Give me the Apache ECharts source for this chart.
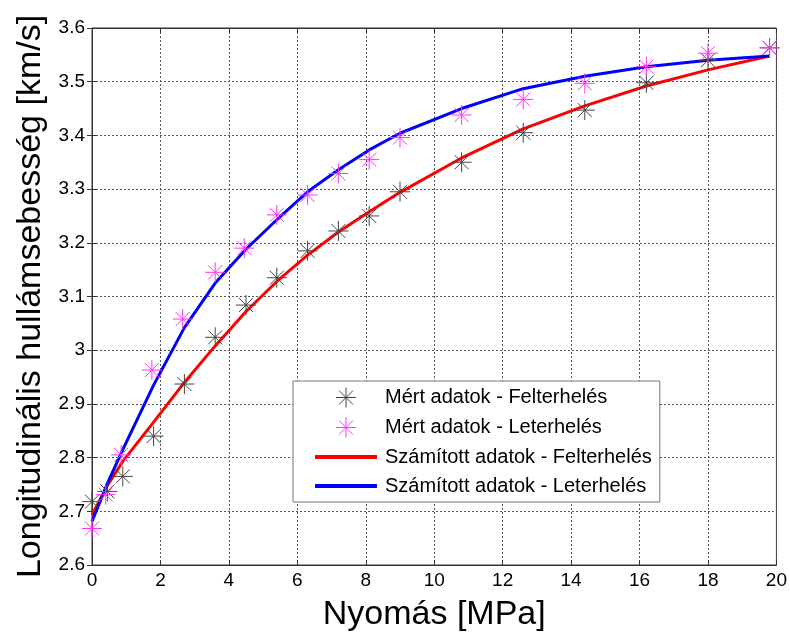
<!DOCTYPE html>
<html>
<head>
<meta charset="utf-8">
<script src="https://cdn.jsdelivr.net/npm/echarts@6/dist/echarts.min.js"></script>
<style>
html, body { margin: 0; padding: 0; background: #fff; }
#chart { width: 790px; height: 639px; }
</style>
</head>
<body>
<div id="chart"></div>
<script>
// mért adatok (measured) - x pressure values
const xFel = [0, 0.45, 0.9, 1.8, 2.7, 3.6, 4.5, 5.4, 6.3, 7.2, 8.1, 9, 10.8, 12.6, 14.4, 16.2, 18, 19.8];
const xLe = [0, 0.4, 0.85, 1.75, 2.65, 3.6, 4.45, 5.4, 6.3, 7.2, 8.1, 9, 10.8, 12.6, 14.4, 16.2, 18, 19.8];
const mertFel = [2.718, 2.737, 2.765, 2.84, 2.937, 3.024, 3.084, 3.135, 3.185, 3.222, 3.25, 3.295, 3.35, 3.405, 3.447, 3.498, 3.54, 3.563];
const mertLe = [2.668, 2.731, 2.805, 2.963, 3.058, 3.145, 3.19, 3.252, 3.289, 3.329, 3.355, 3.396, 3.438, 3.467, 3.497, 3.528, 3.553, 3.563];
// számított adatok (model curves)
const xCalc = [0, 0.45, 0.9, 1.8, 2.7, 3.6, 4.5, 5.4, 6.3, 7.2, 8.1, 9, 10.8, 12.6, 14.4, 16.2, 18, 19.8];
const calcFel = [2.693, 2.748, 2.793, 2.866, 2.94, 3.008, 3.072, 3.128, 3.177, 3.22, 3.258, 3.294, 3.358, 3.412, 3.455, 3.492, 3.522, 3.548];
const calcLe = [2.681, 2.752, 2.815, 2.935, 3.042, 3.125, 3.188, 3.243, 3.295, 3.336, 3.373, 3.404, 3.45, 3.487, 3.51, 3.528, 3.54, 3.548];

const names = ['Mért adatok - Felterhelés', 'Mért adatok - Leterhelés',
  'Számított adatok - Felterhelés', 'Számított adatok - Leterhelés'];

const star = 'path://M10,0L10,20M0,10L20,10M3,3L17,17M3,17L17,3';
const zip = (xs, ys) => xs.map((x, i) => [x, ys[i]]);
const font = 'Arial, "Liberation Sans", sans-serif';

const myChart = echarts.init(document.getElementById('chart'));

const gridLine = { show: true, lineStyle: { color: '#555', type: [2, 2], width: 1 } };
const hiddenDot = { color: 'rgba(0,0,0,0)', borderWidth: 0 };

const option = {
  animation: false,
  backgroundColor: '#fff',
  grid: { left: 92, right: 13, top: 28, bottom: 74, show: true, borderColor: '#333', borderWidth: 1 },
  legend: {
    orient: 'vertical',
    left: 293, top: 381,
    padding: [6, 8, 6, 20],
    itemWidth: 62, itemHeight: 20, itemGap: 9,
    backgroundColor: '#fff',
    borderColor: '#777', borderWidth: 1,
    textStyle: { fontFamily: font, fontSize: 20, color: '#000', padding: [0, 0, 0, 3] },
    data: [
      { name: names[0], itemStyle: { borderWidth: 1 } },
      { name: names[1], itemStyle: { borderWidth: 1 } },
      { name: names[2], itemStyle: hiddenDot, lineStyle: { width: 4 } },
      { name: names[3], itemStyle: hiddenDot, lineStyle: { width: 4 } }
    ]
  },
  xAxis: [{
    type: 'value', min: 0, max: 20, interval: 2,
    name: 'Nyomás [MPa]', nameLocation: 'middle', nameGap: 33,
    nameTextStyle: { fontFamily: font, fontSize: 34, color: '#000' },
    axisLine: { show: true, lineStyle: { color: '#333' } },
    axisTick: { show: true, inside: true, length: 5, lineStyle: { color: '#333' } },
    axisLabel: { fontFamily: font, fontSize: 19, color: '#000', margin: 6 },
    splitLine: gridLine
  }, {
    type: 'value', min: 0, max: 20, interval: 2, position: 'top',
    axisLine: { show: true, lineStyle: { color: '#333' } },
    axisTick: { show: true, inside: true, length: 5, lineStyle: { color: '#333' } },
    axisLabel: { show: false }, splitLine: { show: false }
  }],
  yAxis: [{
    type: 'value', min: 2.6, max: 3.6, interval: 0.1,
    name: 'Longitudinális hullámsebesség [km/s]', nameLocation: 'middle', nameGap: 42,
    nameTextStyle: { fontFamily: font, fontSize: 34, color: '#000' },
    axisLine: { show: true, lineStyle: { color: '#333' } },
    axisTick: { show: true, inside: true, length: 5, lineStyle: { color: '#333' } },
    axisLabel: {
      fontFamily: font, fontSize: 19, color: '#000', margin: 7,
      formatter: v => String(parseFloat(v.toFixed(1)))
    },
    splitLine: gridLine
  }, {
    type: 'value', min: 2.6, max: 3.6, interval: 0.1, position: 'right',
    axisLine: { show: true, lineStyle: { color: '#333' } },
    axisTick: { show: true, inside: true, length: 5, lineStyle: { color: '#333' } },
    axisLabel: { show: false }, splitLine: { show: false }
  }],
  series: [
    {
      name: names[2], type: 'line', data: zip(xCalc, calcFel),
      symbol: 'none', lineStyle: { color: '#ff0000', width: 3 }, itemStyle: { color: '#ff0000' }, z: 2
    },
    {
      name: names[3], type: 'line', data: zip(xCalc, calcLe),
      symbol: 'none', lineStyle: { color: '#0000ff', width: 3 }, itemStyle: { color: '#0000ff' }, z: 2
    },
    {
      name: names[0], type: 'scatter', data: zip(xFel, mertFel),
      symbol: star, symbolSize: 20, symbolKeepAspect: true,
      itemStyle: { color: 'rgba(0,0,0,0)', borderColor: '#444', borderWidth: 1, opacity: 1 }, z: 3
    },
    {
      name: names[1], type: 'scatter', data: zip(xLe, mertLe),
      symbol: star, symbolSize: 20, symbolKeepAspect: true,
      itemStyle: { color: 'rgba(0,0,0,0)', borderColor: '#ff33ff', borderWidth: 1, opacity: 1 }, z: 3
    }
  ]
};

myChart.setOption(option);
window.addEventListener('resize', function () {
  myChart.resize();
});
</script>
</body>
</html>
